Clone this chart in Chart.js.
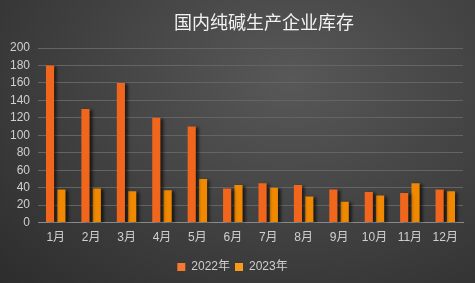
<!DOCTYPE html>
<html>
<head>
<meta charset="utf-8">
<script src="https://cdn.jsdelivr.net/npm/chart.js@4"></script>
<style>
  html, body { margin: 0; padding: 0; }
  body {
    width: 475px; height: 283px; overflow: hidden;
    background: radial-gradient(ellipse 420px 300px at 290px 80px, #585858 0%, #3f3f3f 55%, #2b2b2b 100%);
  }
  #wrap { position: relative; width: 475px; height: 283px; }
</style>
</head>
<body>
<div id="wrap"><canvas id="chart" width="475" height="283"></canvas></div>
<script>
// chart data
const titleText = '国内纯碱生产企业库存';
const months = ['1月', '2月', '3月', '4月', '5月', '6月', '7月', '8月', '9月', '10月', '11月', '12月'];
const seriesNames = ['2022年', '2023年'];
const stock2022 = [180, 130, 160, 120, 110, 39, 45, 43, 38, 35, 34, 38];
const stock2023 = [38, 39, 36, 37, 50, 43, 40, 30, 24, 31, 45, 36];

const font = '"Liberation Sans", "Noto Sans CJK SC", sans-serif';

// horizontal gradient across a bar
function barFill(light, dark) {
    return (c) => {
        const el = c.element;
        if (!el || el.width == null) return dark;
        const x0 = el.x - el.width / 2;
        const g = c.chart.ctx.createLinearGradient(x0, 0, x0 + el.width, 0);
        g.addColorStop(0, light);
        g.addColorStop(1, dark);
        return g;
    };
}

// title drawn a bit right of centre, like the original
const titlePlugin = {
    id: 'offTitle',
    afterDraw(chart) {
        const ctx = chart.ctx;
        ctx.save();
        ctx.font = '18px ' + font;
        ctx.fillStyle = '#f2f2f2';
        ctx.textAlign = 'center';
        ctx.textBaseline = 'middle';
        ctx.fillText(titleText, 264, 24);
        ctx.restore();
    }
};

// soft shadow behind the bars
const shadowPlugin = {
    id: 'barShadow',
    beforeDatasetsDraw(chart) {
        const ctx = chart.ctx;
        ctx.save();
        ctx.shadowColor = 'rgba(0,0,0,0.6)';
        ctx.shadowBlur = 3;
        ctx.shadowOffsetX = 3;
        ctx.shadowOffsetY = 1;
    },
    afterDatasetsDraw(chart) {
        chart.ctx.restore();
    }
};

new Chart(document.getElementById('chart'), {
    type: 'bar',
    data: {
        labels: months,
        datasets: [
            { label: seriesNames[0], data: stock2022, backgroundColor: barFill('#ff9250', '#f0661c') },
            { label: seriesNames[1], data: stock2023, backgroundColor: barFill('#ffaa34', '#f08800') }
        ]
    },
    options: {
        responsive: false,
        animation: false,
        devicePixelRatio: 1,
        categoryPercentage: 0.64,
        barPercentage: 0.72,
        layout: { padding: { top: 48, right: 12, left: 2, bottom: 0 } },
        plugins: {
            title: { display: false },
            tooltip: { enabled: false },
            legend: {
                position: 'bottom',
                labels: {
                    color: '#cfcfcf',
                    font: { family: font, size: 12 },
                    boxWidth: 8, boxHeight: 8,
                    padding: 5,
                    generateLabels(chart) {
                        const cols = ['#f57a30', '#fb9a18'];
                        return chart.data.datasets.map((d, i) => ({
                            text: d.label, fillStyle: cols[i], strokeStyle: cols[i],
                            lineWidth: 0, datasetIndex: i, fontColor: '#cfcfcf'
                        }));
                    }
                }
            }
        },
        scales: {
            x: {
                grid: { display: false, drawTicks: false },
                border: { color: '#8a8a8a', width: 1 },
                ticks: { color: '#cfcfcf', font: { family: font, size: 12 }, padding: 8, maxRotation: 0, autoSkip: false },
                afterFit(scale) { scale.height += 3; }
            },
            y: {
                min: 0, max: 200,
                ticks: { stepSize: 20, autoSkip: false, color: '#cfcfcf', font: { family: font, size: 12 }, padding: 8 },
                grid: { color: '#646464', lineWidth: 1, drawTicks: false },
                border: { display: false }
            }
        }
    },
    plugins: [titlePlugin, shadowPlugin]
});
</script>
</body>
</html>
